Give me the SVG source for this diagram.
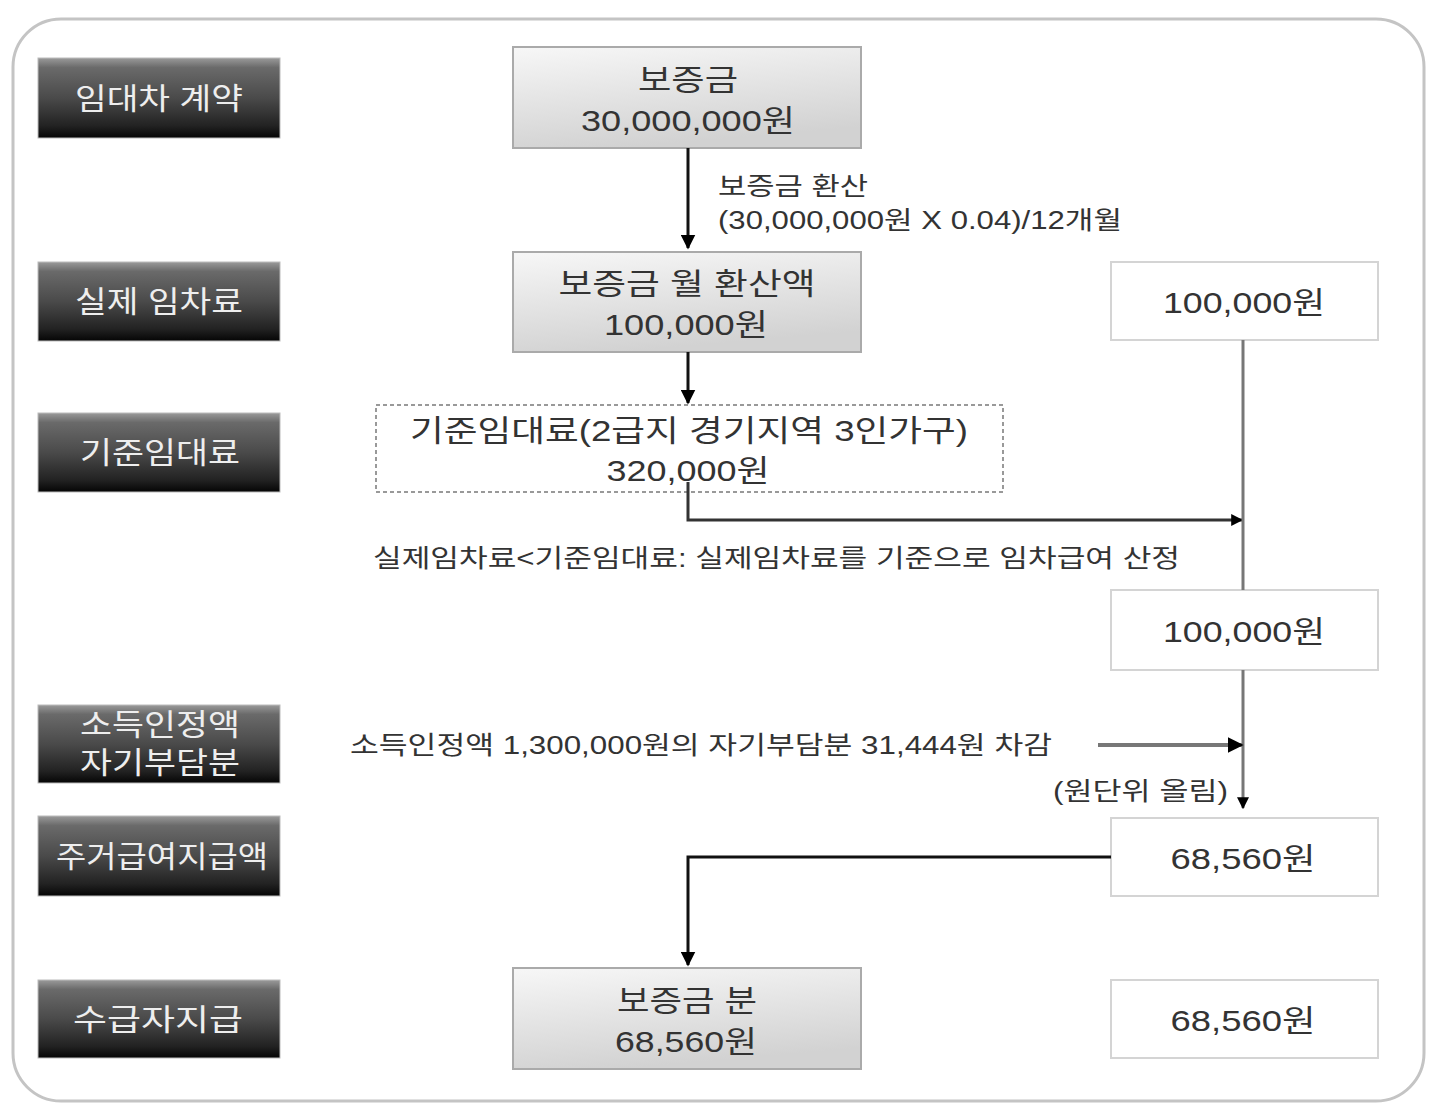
<svg xmlns="http://www.w3.org/2000/svg" width="1440" height="1120" viewBox="0 0 1440 1120">
<defs>
<linearGradient id="dark" x1="0" y1="0" x2="0" y2="1">
<stop offset="0" stop-color="#9a9a9a"/>
<stop offset="0.12" stop-color="#6a6a6a"/>
<stop offset="0.5" stop-color="#4a4a4a"/>
<stop offset="0.85" stop-color="#222"/>
<stop offset="1" stop-color="#050505"/>
</linearGradient>
<linearGradient id="light" x1="0" y1="0" x2="0.3" y2="1">
<stop offset="0" stop-color="#f7f7f7"/>
<stop offset="1" stop-color="#d2d2d2"/>
</linearGradient>
<marker id="ah" viewBox="0 0 10 10" refX="9" refY="5" markerWidth="5" markerHeight="5" orient="auto" markerUnits="strokeWidth">
<path d="M0,0 L10,5 L0,10 z" fill="#000"/>
</marker>
<marker id="ah2" viewBox="0 0 10 10" refX="9" refY="5" markerWidth="4" markerHeight="4" orient="auto" markerUnits="strokeWidth">
<path d="M0,0 L10,5 L0,10 z" fill="#000"/>
</marker>
</defs>
<style>
text{font-family:"Liberation Sans","Noto Sans CJK KR",sans-serif;}
.lab{fill:#eeeeee;font-size:30px;text-anchor:middle;}
.dk{fill:url(#dark);stroke:#bbb;stroke-width:1;}
.lt{fill:url(#light);stroke:#aaa;stroke-width:2;}
.wb{fill:#fff;stroke:#d4d4d4;stroke-width:2;}
.ct{fill:#333;font-size:30px;text-anchor:middle;}
.nt{fill:#333;font-size:25px;}
.blk{fill:none;stroke:#111;stroke-width:3;}
.gry{fill:none;stroke:#777;stroke-width:3;}
</style>
<rect x="0" y="0" width="1440" height="1120" fill="#fff"/>
<rect x="13" y="19" width="1411" height="1082" rx="48" fill="none" stroke="#c4c4c4" stroke-width="3"/>

<g id="label-contract"><rect class="dk" x="38" y="58" width="242" height="80"/><text class="lab" x="159" y="109" textLength="168" lengthAdjust="spacingAndGlyphs">임대차 계약</text></g>
<g id="label-actual"><rect class="dk" x="38" y="262" width="242" height="79"/><text class="lab" x="159" y="312" textLength="168" lengthAdjust="spacingAndGlyphs">실제 임차료</text></g>
<g id="label-standard"><rect class="dk" x="38" y="413" width="242" height="79"/><text class="lab" x="160" y="463" textLength="160" lengthAdjust="spacingAndGlyphs">기준임대료</text></g>
<g id="label-self"><rect class="dk" x="38" y="705" width="242" height="78"/><text class="lab" x="160" y="735" textLength="160" lengthAdjust="spacingAndGlyphs">소득인정액</text><text class="lab" x="160" y="773" textLength="160" lengthAdjust="spacingAndGlyphs">자기부담분</text></g>
<g id="label-benefit"><rect class="dk" x="38" y="816" width="242" height="80"/><text class="lab" x="162" y="867" textLength="212" lengthAdjust="spacingAndGlyphs">주거급여지급액</text></g>
<g id="label-pay"><rect class="dk" x="38" y="980" width="242" height="78"/><text class="lab" x="158" y="1030" textLength="170" lengthAdjust="spacingAndGlyphs">수급자지급</text></g>

<g id="deposit"><rect class="lt" x="513" y="47" width="348" height="101"/><text class="ct" x="688" y="90" textLength="100" lengthAdjust="spacingAndGlyphs">보증금</text><text class="ct" x="688" y="131" textLength="214" lengthAdjust="spacingAndGlyphs">30,000,000원</text></g>
<g id="monthly"><rect class="lt" x="513" y="252" width="348" height="100"/><text class="ct" x="687" y="294" textLength="257" lengthAdjust="spacingAndGlyphs">보증금 월 환산액</text><text class="ct" x="686" y="335" textLength="164" lengthAdjust="spacingAndGlyphs">100,000원</text></g>
<g id="standard"><rect x="376" y="405" width="627" height="87" fill="#fff" stroke="#999" stroke-width="2" stroke-dasharray="4,3"/><text class="ct" x="689" y="441" textLength="558" lengthAdjust="spacingAndGlyphs">기준임대료(2급지 경기지역 3인가구)</text><text class="ct" x="688" y="481" textLength="163" lengthAdjust="spacingAndGlyphs">320,000원</text></g>
<g id="deposit-part"><rect class="lt" x="513" y="968" width="348" height="101"/><text class="ct" x="687" y="1011" textLength="140" lengthAdjust="spacingAndGlyphs">보증금 분</text><text class="ct" x="686" y="1052" textLength="142" lengthAdjust="spacingAndGlyphs">68,560원</text></g>

<g id="r1"><rect class="wb" x="1111" y="262" width="267" height="78"/><text class="ct" x="1244" y="313" textLength="162" lengthAdjust="spacingAndGlyphs">100,000원</text></g>
<g id="r2"><rect class="wb" x="1111" y="590" width="267" height="80"/><text class="ct" x="1244" y="642" textLength="162" lengthAdjust="spacingAndGlyphs">100,000원</text></g>
<g id="r3"><rect class="wb" x="1111" y="818" width="267" height="78"/><text class="ct" x="1243" y="869" textLength="145" lengthAdjust="spacingAndGlyphs">68,560원</text></g>
<g id="r4"><rect class="wb" x="1111" y="980" width="267" height="78"/><text class="ct" x="1243" y="1031" textLength="145" lengthAdjust="spacingAndGlyphs">68,560원</text></g>

<g id="connectors">
<line class="blk" x1="688" y1="148" x2="688" y2="248" marker-end="url(#ah)"/>
<line class="blk" x1="688" y1="352" x2="688" y2="403" marker-end="url(#ah)"/>
<polyline fill="none" stroke="#333" stroke-width="3" points="688,482 688,520 1242,520" marker-end="url(#ah2)"/>
<line class="gry" x1="1243" y1="340" x2="1243" y2="590"/>
<line class="gry" x1="1243" y1="670" x2="1243" y2="808" marker-end="url(#ah2)"/>
<line x1="1098" y1="745" x2="1242" y2="745" stroke="#777" stroke-width="4" marker-end="url(#ah2)"/>
<polyline class="blk" points="1111,857 688,857 688,965" marker-end="url(#ah)"/>
</g>

<g id="notes">
<text class="nt" x="718" y="195" textLength="150" lengthAdjust="spacingAndGlyphs">보증금 환산</text>
<text class="nt" x="718" y="229" textLength="404" lengthAdjust="spacingAndGlyphs">(30,000,000원 X 0.04)/12개월</text>
<text class="nt" x="373" y="567" textLength="807" lengthAdjust="spacingAndGlyphs">실제임차료&lt;기준임대료: 실제임차료를 기준으로 임차급여 산정</text>
<text class="nt" x="350" y="754" textLength="702" lengthAdjust="spacingAndGlyphs">소득인정액 1,300,000원의 자기부담분 31,444원 차감</text>
<text class="nt" x="1053" y="800" textLength="175" lengthAdjust="spacingAndGlyphs">(원단위 올림)</text>
</g>
</svg>
